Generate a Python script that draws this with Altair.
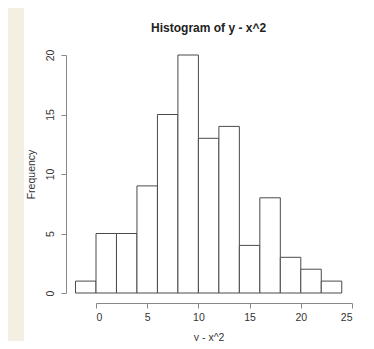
import altair as alt
import pandas as pd

bin_start = [-2, 0, 2, 4, 6, 8, 10, 12, 14, 16, 18, 20, 22]
bin_end = [0, 2, 4, 6, 8, 10, 12, 14, 16, 18, 20, 22, 24]
counts = [1, 5, 5, 9, 15, 20, 13, 14, 4, 8, 3, 2, 1]
x_ticks = [0, 5, 10, 15, 20, 25]
y_ticks = [0, 5, 10, 15, 20]

df = pd.DataFrame({"start": bin_start, "end": bin_end, "count": counts})

FONT = "Liberation Sans"
W, H = 256, 238
PL, PT, PR, PB = 88, 47, 14, 48

panel = alt.Chart(pd.DataFrame({"a": [0]})).mark_rect(fill="white", strokeWidth=0).encode(
    x=alt.value(16 - PL), x2=alt.value(W + PR + 10),
    y=alt.value(-PT), y2=alt.value(H + PB + 10),
)

bars = alt.Chart(df).mark_rect(fill="white", stroke="#4a4a4a", strokeWidth=1).encode(
    x=alt.X("start:Q", scale=alt.Scale(domain=[0, 25], nice=False, zero=False),
            axis=alt.Axis(values=x_ticks, title="y - x^2", offset=10, grid=False,
                          tickSize=5, labelPadding=4, titleX=112.6, titleY=34,
                          titleBaseline="middle", titleAlign="center", format="d",
                          zindex=2)),
    x2="end:Q",
    y=alt.Y("count:Q", scale=alt.Scale(domain=[0, 20], nice=False),
            axis=alt.Axis(values=y_ticks, title="Frequency", offset=30, grid=False,
                          tickSize=5, labelAngle=270, labelAlign="center",
                          labelBaseline="middle", labelPadding=11,
                          titleX=-35, titleBaseline="middle", titleAlign="center",
                          zindex=2)),
    y2=alt.datum(0),
)

chart = alt.layer(panel, bars).properties(
    width=W, height=H,
    padding={"left": PL, "top": PT, "right": PR, "bottom": PB},
    autosize=alt.AutoSizeParams(type="none"),
    background="#f3efe2",
    title=alt.TitleParams("Histogram of y - x^2", font=FONT, fontSize=12, fontWeight="bold",
                          color="#222", anchor="middle", dx=-15.4, offset=0, dy=27, zindex=2,
                          frame="group"),
).configure_view(stroke=None).configure_axis(
    domainColor="#888", tickColor="#888", labelColor="#333", titleColor="#333",
    labelFont=FONT, titleFont=FONT, labelFontSize=10.5, titleFontSize=10.5,
    titleFontWeight="normal",
)

chart.save("out.html", embed_options={"renderer": "svg", "actions": False})
